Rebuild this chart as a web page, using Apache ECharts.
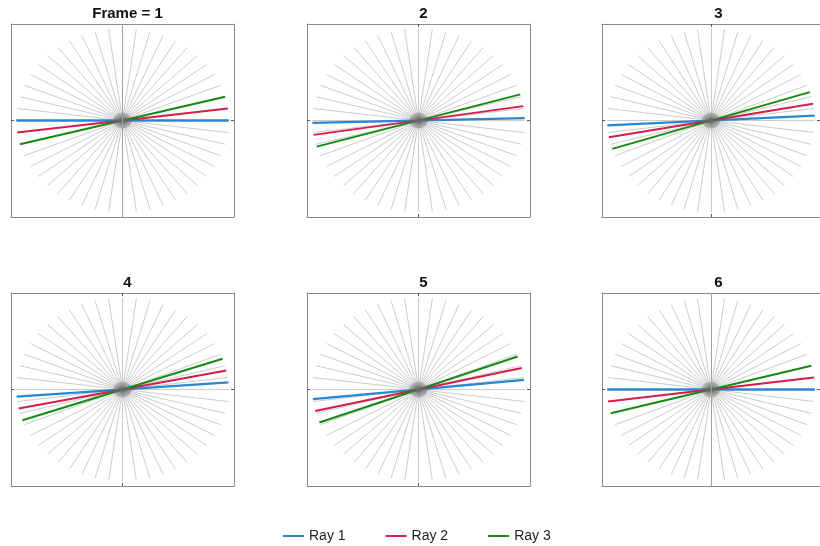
<!DOCTYPE html>
<html>
<head>
<meta charset="utf-8">
<title>Rays by frame</title>
<script src="https://cdn.jsdelivr.net/npm/echarts@6/dist/echarts.min.js"></script>
<style>
  html, body { margin: 0; padding: 0; background: #ffffff; }
  #chart { width: 820px; height: 546px; }
</style>
</head>
<body>
<div id="chart"></div>
<script>
// Panel titles, one per frame
const FRAME_TITLES = ['Frame = 1', '2', '3', '4', '5', '6'];

// Ray names and colours
const RAY_NAMES = ['Ray 1', 'Ray 2', 'Ray 3'];
const RAY_COLORS = ['#2b86d0', '#d41d4a', '#148a14'];

// Ray direction (degrees) in each frame
const RAY1_DEG = [0, 1.5, 3, 4.5, 6, 0];
const RAY2_DEG = [7.5, 9, 10.5, 12, 13.5, 7.5];
const RAY3_DEG = [15, 16.5, 18, 19.5, 21, 15];

// Background spoke directions (degrees); each spoke is a full diameter
const SPOKE_DEG = [0, 7.5, 15, 22.5, 30, 37.5, 45, 52.5, 60, 67.5, 75, 82.5,
                   90, 97.5, 105, 112.5, 120, 127.5, 135, 142.5, 150, 157.5, 165, 172.5];

// Frames that show the full-height vertical guide through the origin
const FULL_VERTICAL = [true, false, false, false, false, true];

const RAY_LENGTH = 1;
const CORE_LENGTH = 0.085;  // inner part of the spokes, drawn over the rays
const AXIS_LIMIT = 1.05;

const GRID_LEFTS = [11, 307, 602];
const GRID_TOPS = [24, 293];
const GRID_W = 223;
const GRID_H = 193;

const rad = d => d * Math.PI / 180;
const diameter = (deg, r) => {
  const c = Math.cos(rad(deg)) * r, s = Math.sin(rad(deg)) * r;
  return [[-c, -s], [c, s]];
};

const boxColor = '#8a8a8a';
const tickColor = '#555555';

function makeAxis(gridIndex, position) {
  return {
    type: 'value',
    gridIndex: gridIndex,
    position: position,
    min: -AXIS_LIMIT,
    max: AXIS_LIMIT,
    interval: AXIS_LIMIT,
    axisLine: { show: true, onZero: false, lineStyle: { color: boxColor, width: 1 } },
    axisTick: { show: true, inside: true, length: 3, customValues: [0], lineStyle: { color: tickColor, width: 1 } },
    axisLabel: { show: false },
    splitLine: { show: false }
  };
}

const grids = [], xAxes = [], yAxes = [], titles = [], series = [];
const rayAngles = [RAY1_DEG, RAY2_DEG, RAY3_DEG];

function spokeSeries(i, length, z, opacity, width) {
  return {
    type: 'lines',
    coordinateSystem: 'cartesian2d',
    xAxisIndex: 2 * i,
    yAxisIndex: 2 * i,
    polyline: false,
    silent: true,
    z: z,
    lineStyle: { color: 'rgb(110,110,110)', width: width, opacity: opacity },
    data: SPOKE_DEG.map(d => ({ coords: diameter(d, length) }))
  };
}

FRAME_TITLES.forEach((title, i) => {
  const col = i % 3, row = Math.floor(i / 3);
  const left = GRID_LEFTS[col], top = GRID_TOPS[row];
  grids.push({ left: left, top: top, width: GRID_W, height: GRID_H, containLabel: false });
  xAxes.push(makeAxis(i, 'bottom'), makeAxis(i, 'top'));
  yAxes.push(makeAxis(i, 'left'), makeAxis(i, 'right'));

  titles.push({
    text: title,
    left: left + GRID_W / 2,
    top: top - 23,
    textAlign: 'center',
    textStyle: { fontFamily: 'Liberation Sans, Arial, sans-serif', fontSize: 15, fontWeight: 'bold', color: '#111111' }
  });

  // grey spokes
  const spokes = spokeSeries(i, RAY_LENGTH, 2, 0.36, 1);
  if (FULL_VERTICAL[i]) {
    spokes.markLine = {
      silent: true,
      symbol: 'none',
      label: { show: false },
      lineStyle: { color: '#a0a0a0', type: 'solid', width: 1 },
      data: [{ xAxis: 0 }]
    };
  }
  series.push(spokes);

  // coloured rays
  rayAngles.forEach((angles, k) => {
    series.push({
      type: 'line',
      name: RAY_NAMES[k],
      xAxisIndex: 2 * i,
      yAxisIndex: 2 * i,
      data: diameter(angles[i], RAY_LENGTH),
      symbol: 'none',
      silent: true,
      z: 3,
      lineStyle: { color: RAY_COLORS[k], width: k === 0 ? 2.3 : 2 },
      itemStyle: { color: RAY_COLORS[k] }
    });
  });

  // dense centre of the spokes, on top of the rays
  series.push(spokeSeries(i, CORE_LENGTH, 4, 0.22, 1.8));
});

const chart = echarts.init(document.getElementById('chart'), null, { renderer: 'canvas' });
chart.setOption({
  animation: false,
  backgroundColor: '#ffffff',
  title: titles,
  grid: grids,
  xAxis: xAxes,
  yAxis: yAxes,
  legend: {
    data: RAY_NAMES,
    left: 278,
    top: 524,
    icon: 'rect',
    itemWidth: 21,
    itemHeight: 2,
    itemGap: 40,
    textStyle: { fontFamily: 'Liberation Sans, Arial, sans-serif', fontSize: 14, color: '#222222' }
  },
  series: series
});
</script>
</body>
</html>
